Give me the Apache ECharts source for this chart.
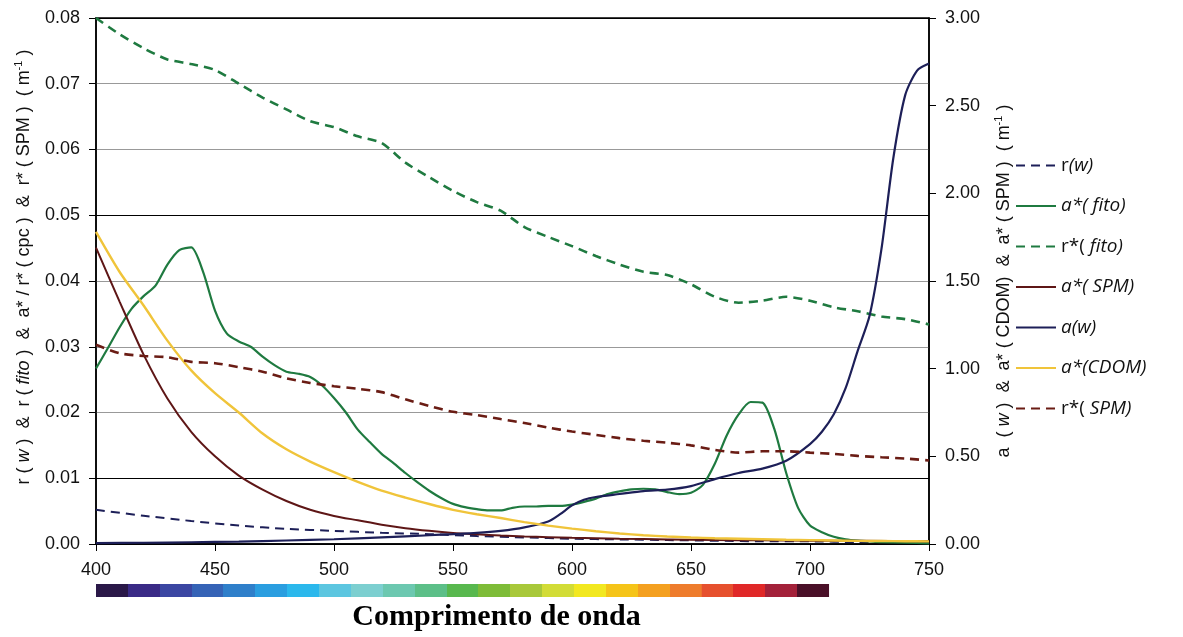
<!DOCTYPE html>
<html>
<head>
<meta charset="utf-8">
<script src="https://cdn.jsdelivr.net/npm/echarts@6/dist/echarts.min.js"></script>
<style>
html,body{margin:0;padding:0;background:#fff;}
#c{width:1183px;height:637px;}
</style>
</head>
<body>
<div id="c"></div>
<script>
// ---- Data ----
const xTicks = [400, 450, 500, 550, 600, 650, 700, 750];

// wavelengths at 10 nm
const wl10 = [400,410,420,430,440,450,460,470,480,490,500,510,520,530,540,550,560,570,580,590,600,610,620,630,640,650,660,670,680,690,700,710,720,730,740,750];

// r*(fito)  (left axis)
const rFito = [0.0800,0.0775,0.0754,0.0737,0.0730,0.0721,0.0700,0.0679,0.0661,0.0643,0.0634,0.0620,0.0610,0.0580,0.0558,0.0537,0.0520,0.0507,0.0482,0.0467,0.0453,0.0438,0.0425,0.0414,0.0409,0.0395,0.0376,0.0367,0.0370,0.0376,0.0370,0.0360,0.0354,0.0346,0.0342,0.0334];

// r*(SPM)  (left axis)
const rSPM = [0.0303,0.0290,0.0286,0.0284,0.0277,0.0275,0.0269,0.0262,0.0252,0.0245,0.0240,0.0236,0.0231,0.0220,0.0210,0.0201,0.0196,0.0190,0.0184,0.0177,0.0171,0.0166,0.0161,0.0157,0.0154,0.0150,0.0143,0.0139,0.0141,0.0141,0.0139,0.0137,0.0134,0.0132,0.0130,0.0127];

// a*(CDOM) (right axis)
const aCDOM = [1.78,1.55,1.36,1.16,0.99,0.86,0.75,0.63,0.54,0.47,0.41,0.355,0.305,0.265,0.228,0.195,0.170,0.148,0.125,0.105,0.088,0.073,0.060,0.050,0.043,0.037,0.033,0.030,0.027,0.024,0.022,0.020,0.018,0.017,0.016,0.015];

// a*(fito) (left axis), 5 nm
const wlFito = [400,405,410,415,420,425,430,435,440,445,450,455,460,465,470,475,480,485,490,495,500,505,510,515,520,525,530,535,540,545,550,555,560,565,570,575,580,585,590,595,600,605,610,615,620,625,630,635,640,645,650,655,660,665,670,675,680,685,690,695,700,705,710,715,720,725,730,740,750];
const aFito = [0.0267,0.0298,0.0330,0.0358,0.0377,0.0393,0.0425,0.0447,0.0451,0.0414,0.0355,0.0320,0.0308,0.0300,0.0285,0.0272,0.0262,0.0259,0.0254,0.0241,0.0222,0.0200,0.0174,0.0155,0.0137,0.0123,0.0108,0.0094,0.0081,0.0070,0.0061,0.0056,0.0053,0.0051,0.0051,0.0055,0.0057,0.0057,0.0058,0.0058,0.0060,0.0064,0.0069,0.0076,0.0080,0.0083,0.0084,0.0083,0.0079,0.0076,0.0078,0.0090,0.0122,0.0165,0.0197,0.0216,0.0215,0.0175,0.0108,0.0055,0.0028,0.0018,0.0011,0.0007,0.0005,0.0004,0.0003,0.0002,0.0001];

// a(w) (right axis)
const wlW = [400,420,440,460,480,500,520,540,550,560,570,580,590,595,600,605,610,620,630,640,650,660,670,680,690,700,705,710,715,720,725,730,735,740,745,750];
const aW = [0.005,0.007,0.010,0.014,0.020,0.027,0.038,0.050,0.056,0.063,0.075,0.095,0.128,0.170,0.220,0.252,0.268,0.285,0.302,0.310,0.330,0.370,0.405,0.430,0.475,0.570,0.640,0.740,0.890,1.100,1.300,1.680,2.200,2.560,2.700,2.740];

// a*(SPM) (right axis)
const wlSPM = [400,410,420,430,440,450,460,470,480,490,500,510,520,530,540,550,560,570,580,590,600,620,640,660,680,700,720,750];
const aSPM = [1.69,1.38,1.08,0.83,0.64,0.50,0.39,0.31,0.245,0.195,0.16,0.135,0.11,0.09,0.075,0.063,0.055,0.048,0.043,0.039,0.035,0.030,0.026,0.023,0.021,0.019,0.018,0.016];

// r(w) (left axis)
const wlRW = [400,420,440,460,480,500,520,540,560,580,600,620,640,660,680,700,720,750];
const rW = [0.0052,0.0043,0.0035,0.0028,0.0023,0.0020,0.0017,0.0015,0.0012,0.0010,0.0008,0.0007,0.0006,0.0005,0.0004,0.0004,0.0003,0.0003];

// colour bar range (nm) and spectrum colours
const barRange = [400, 708];
const spectrum = ['#2a1848','#3a2a86','#3b46a2','#3563b6','#2f7fca','#2a9ee0','#2bb8ec','#5cc6e0','#7ccfd0','#6cc8b0','#5cbf88','#58b84e','#7ebc38','#a8c83a','#d2dc36','#f2e820','#f5c418','#f4a020','#ee7c2c','#e6502e','#e02828','#a3213a','#4a1028'];

const legendLabels = {
  'r(w)': '{n|r}{i|(w)}',
  'a*(fito)': '{i|a*( fito)}',
  'r*(fito)': '{n|r*(}{i| fito)}',
  'a*(SPM)': '{i|a*( SPM)}',
  'a(w)': '{i|a(w)}',
  'a*(CDOM)': '{i|a*(CDOM)}',
  'r*(SPM)': '{n|r*(}{i| SPM)}'
};

const zip = (xs, ys) => xs.map((x, i) => [x, ys[i]]);

const GREEN = '#1f7a40', NAVY = '#1d1f58', RED = '#5e1616', RED2 = '#6a1c14', YEL = '#f0c43a';

const chart = echarts.init(document.getElementById('c'));

function lineSeries(name, data, color, dashed, yAxisIndex, width) {
  return {
    name, type: 'line', data, yAxisIndex,
    showSymbol: false, symbol: 'none',
    smooth: 0.25,
    lineStyle: { color, width: width || 2, type: dashed ? [9, 6] : 'solid' },
    itemStyle: { color },
    animation: false
  };
}

const nameRich = {
  n: { fontFamily: 'Liberation Sans', fontSize: 18, color: '#111', lineHeight: 22 },
  i: { fontFamily: 'Liberation Sans', fontSize: 18, fontStyle: 'italic', color: '#111', lineHeight: 22 },
  sup: { fontFamily: 'Liberation Sans', fontSize: 11, color: '#111', verticalAlign: 'top', lineHeight: 22, padding: [0,0,10,0] }
};

const option = {
  backgroundColor: '#fff',
  animation: false,
  grid: { left: 96, right: 254, top: 18, bottom: 91, show: true, borderColor: '#000', borderWidth: 1.5, backgroundColor: '#fff' },
  legend: {
    orient: 'vertical', left: 1010, top: 151,
    itemWidth: 40, itemHeight: 22, itemGap: 21.5,
    itemStyle: { opacity: 0 },
    data: Object.keys(legendLabels),
    formatter: n => legendLabels[n],
    textStyle: {
      fontFamily: 'Open Sans', fontSize: 19, color: '#111',
      rich: {
        n: { fontFamily: 'Open Sans', fontSize: 19, color: '#111' },
        i: { fontFamily: 'Open Sans', fontSize: 19, fontStyle: 'italic', color: '#111' }
      }
    }
  },
  xAxis: {
    type: 'value', min: 400, max: 750, interval: 50,
    axisLine: { lineStyle: { color: '#000', width: 1.5 } },
    axisTick: { show: true, inside: false, length: 7, lineStyle: { color: '#000' } },
    axisLabel: { fontFamily: 'Liberation Sans', fontSize: 18, color: '#111', margin: 17 },
    splitLine: { show: false },
    name: 'Comprimento de onda', nameLocation: 'middle', nameGap: 58,
    nameTextStyle: { fontFamily: 'Liberation Serif', fontWeight: 'bold', fontSize: 30, color: '#000', padding: [0, 32, 0, 0] }
  },
  yAxis: [
    {
      type: 'value', min: 0, max: 0.08, interval: 0.01, position: 'left',
      axisLine: { show: true, lineStyle: { color: '#000', width: 1.5 } },
      axisTick: { show: true, length: 7, lineStyle: { color: '#000' } },
      axisLabel: { fontFamily: 'Liberation Sans', fontSize: 18, color: '#111', margin: 16, formatter: v => v.toFixed(2) },
      splitLine: { show: true, lineStyle: { color: ['#000','#000','#999','#999','#999','#000','#999','#999','#000'], width: 1.2 } },
      name: '{n|r ( }{i|w}{n| )  &  r ( }{i|fito}{n| )  &  a* / r* ( cpc )  &  r* ( SPM )  ( m}{sup|-1}{n| )}',
      nameLocation: 'middle', nameRotate: 90, nameGap: 61,
      nameTextStyle: { rich: nameRich, padding: [0, 0, 0, 28] }
    },
    {
      type: 'value', min: 0, max: 3, interval: 0.5, position: 'right',
      axisLine: { show: true, lineStyle: { color: '#000', width: 1.5 } },
      axisTick: { show: true, length: 7, lineStyle: { color: '#000' } },
      axisLabel: { fontFamily: 'Liberation Sans', fontSize: 18, color: '#111', margin: 16, formatter: v => v.toFixed(2) },
      splitLine: { show: false },
      name: '{n|a  ( }{i|w}{n| )  &  a* ( CDOM)  &  a* ( SPM )  ( m}{sup|-1}{n| )}',
      nameLocation: 'middle', nameRotate: 90, nameGap: 64,
      nameTextStyle: { rich: nameRich }
    }
  ],
  series: [
    lineSeries('r(w)', zip(wlRW, rW), NAVY, true, 0, 2),
    lineSeries('a*(fito)', zip(wlFito, aFito), GREEN, false, 0, 2.2),
    lineSeries('r*(fito)', zip(wl10, rFito), GREEN, true, 0, 2.6),
    lineSeries('a*(SPM)', zip(wlSPM, aSPM), RED, false, 1, 2),
    lineSeries('a(w)', zip(wlW, aW), NAVY, false, 1, 2.2),
    lineSeries('a*(CDOM)', zip(wl10, aCDOM), YEL, false, 1, 2.4),
    lineSeries('r*(SPM)', zip(wl10, rSPM), RED2, true, 0, 2.6)
  ]
};

chart.setOption(option);

// colour bar under the axis, positioned through the x scale
const x0 = chart.convertToPixel({ xAxisIndex: 0 }, barRange[0]);
const x1 = chart.convertToPixel({ xAxisIndex: 0 }, barRange[1]);
const stops = [];
spectrum.forEach((c, i) => {
  const a = i / spectrum.length, b = (i + 1) / spectrum.length;
  stops.push({ offset: a, color: c }, { offset: b - 0.0001, color: c });
});
chart.setOption({
  graphic: [{
    type: 'rect', left: x0, top: 584, silent: true,
    shape: { width: x1 - x0, height: 13 },
    style: { fill: new echarts.graphic.LinearGradient(0, 0, 1, 0, stops) }
  }]
});
</script>
</body>
</html>
